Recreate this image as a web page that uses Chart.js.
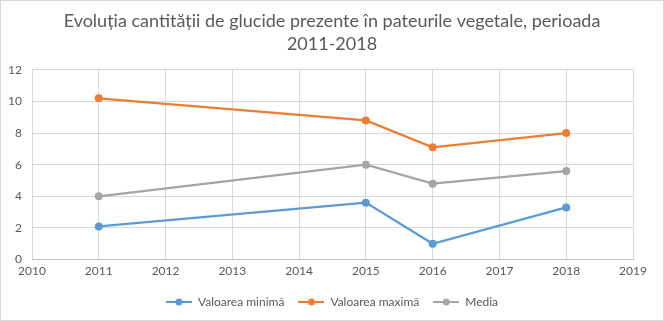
<!DOCTYPE html>
<html>
<head>
<meta charset="utf-8">
<script src="https://cdn.jsdelivr.net/npm/chart.js@4/dist/chart.umd.min.js"></script>
<style>
  html, body { margin: 0; padding: 0; background: #fff; }
  #wrap { width: 662px; height: 319px; border: 1px solid #d9d9d9; }
</style>
</head>
<body>
<div id="wrap"><canvas id="chart" width="662" height="319"></canvas></div>
<script>
var years = [2011, 2015, 2016, 2018];
var minValues = [2.1, 3.6, 1.0, 3.3];
var maxValues = [10.2, 8.8, 7.1, 8.0];
var meanValues = [4.0, 6.0, 4.8, 5.6];
var seriesNames = ['Valoarea minimă', 'Valoarea maximă', 'Media'];
var palette = ['#5b9bd5', '#ed7d31', '#a5a5a5'];
var titleLines = ['Evoluția cantității de glucide prezente în pateurile vegetale, perioada', '2011-2018'];

var fontFamily = "Lato, 'Liberation Sans', sans-serif";
var textColor = '#595959';

// little line-with-dot marker for the legend
function legendMarker(color) {
  var c = document.createElement('canvas');
  c.width = 26;
  c.height = 10;
  var g = c.getContext('2d');
  g.strokeStyle = color;
  g.lineWidth = 2;
  g.beginPath();
  g.moveTo(0, 5);
  g.lineTo(26, 5);
  g.stroke();
  g.fillStyle = color;
  g.beginPath();
  g.arc(13, 5, 3.5, 0, Math.PI * 2);
  g.fill();
  return c;
}

function toPoints(values) {
  return values.map((v, i) => {
    return { x: years[i], y: v };
  });
}

var datasets = [minValues, maxValues, meanValues].map((values, index) => {
  return {
    label: seriesNames[index],
    data: toPoints(values),
    borderColor: palette[index],
    backgroundColor: palette[index],
    borderWidth: 2.25,
    pointRadius: 4,
    pointHoverRadius: 4,
    pointBorderWidth: 0,
    fill: false,
    tension: 0
  };
});

var markers = palette.map(legendMarker);

new Chart(document.getElementById('chart').getContext('2d'), {
  type: 'line',
  data: { datasets: datasets },
  options: {
    responsive: false,
    animation: false,
    layout: { padding: { left: 2, right: 2, top: 4, bottom: 2 } },
    plugins: {
      title: {
        display: true,
        text: titleLines,
        color: textColor,
        font: { family: fontFamily, size: 18, weight: 'normal', lineHeight: 1.3 },
        padding: { top: 4, bottom: 14 }
      },
      legend: {
        position: 'bottom',
        labels: {
          color: textColor,
          font: { family: fontFamily, size: 12 },
          usePointStyle: true,
          pointStyleWidth: 26,
          boxHeight: 10,
          padding: 14,
          generateLabels: chart => {
            return chart.data.datasets.map((ds, i) => {
              return {
                text: ds.label,
                fontColor: textColor,
                pointStyle: markers[i],
                datasetIndex: i,
                hidden: false
              };
            });
          }
        }
      },
      tooltip: { enabled: false }
    },
    scales: {
      x: {
        type: 'linear',
        min: 2010,
        max: 2019,
        ticks: {
          stepSize: 1,
          color: textColor,
          font: { family: fontFamily, size: 12 },
          callback: v => String(v),
          maxRotation: 0,
          padding: 4
        },
        grid: { color: '#d9d9d9', drawTicks: false },
        border: { color: '#bfbfbf' }
      },
      y: {
        min: 0,
        max: 12,
        afterFit: scale => {
          scale.width = 29;
        },
        ticks: {
          stepSize: 2,
          color: textColor,
          font: { family: fontFamily, size: 12 },
          padding: 10
        },
        grid: { color: '#d9d9d9', drawTicks: false },
        border: { display: false }
      },
      // empty right-hand spacer so the plot sits like the left side
      spacer: {
        position: 'right',
        min: 0,
        max: 12,
        afterFit: scale => {
          scale.width = 28;
        },
        ticks: { display: false },
        grid: { display: false },
        border: { display: false }
      }
    }
  }
});
</script>
</body>
</html>
